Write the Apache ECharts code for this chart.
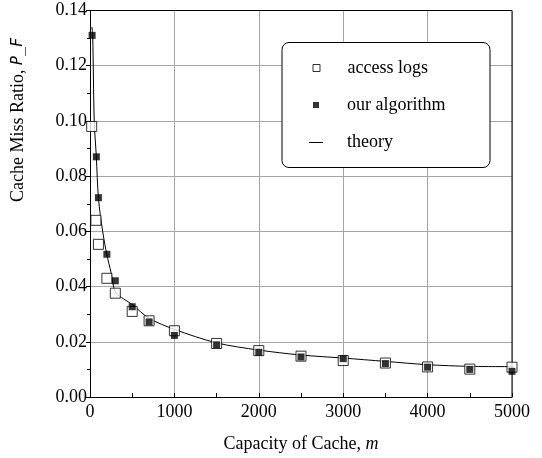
<!DOCTYPE html>
<html>
<head>
<meta charset="utf-8">
<script src="https://cdn.jsdelivr.net/npm/echarts@6/dist/echarts.min.js"></script>
<style>
html, body { margin: 0; padding: 0; background: #fff; }
#chart { width: 542px; height: 458px; }
</style>
</head>
<body>
<div id="chart"></div>
<script>
// 数据
var logX = [20, 70, 100, 200, 300, 500, 700, 1000, 1500, 2000, 2500, 3000, 3500, 4000, 4500, 5000];
var logY = [0.098, 0.064, 0.0553, 0.043, 0.0376, 0.031, 0.0276, 0.024, 0.0194, 0.0168, 0.0148, 0.0132, 0.0123, 0.0109, 0.0101, 0.0108];

var algoX = [25, 75, 100, 200, 300, 500, 700, 1000, 1500, 2000, 2500, 3000, 3500, 4000, 4500, 5000];
var algoY = [0.131, 0.087, 0.0722, 0.0517, 0.0421, 0.0327, 0.0272, 0.0223, 0.0189, 0.0162, 0.0145, 0.0139, 0.0121, 0.0108, 0.0100, 0.0093];

var theoryX = [22, 32, 50, 75, 100, 150, 200, 250, 300, 400, 500, 700, 1000, 1500, 2000, 2500, 3000, 3500, 4000, 4500, 5000];
var theoryY = [0.134, 0.131, 0.100, 0.087, 0.072, 0.060, 0.0515, 0.045, 0.038, 0.0355, 0.0335, 0.0285, 0.0245, 0.0196, 0.0170, 0.0152, 0.0141, 0.0129, 0.0117, 0.0111, 0.0110];

var pairs = function(xs, ys) {
    var out = []
    for (var i = 0; i < xs.length; i++) {
        out.push([xs[i], ys[i]])
    }
    return out
}

var font = '"Liberation Serif", "DejaVu Serif", serif'
var fs = 18
var myChart = echarts.init(document.getElementById('chart'));

// 图例：图标中心 x=311，文字起点 x=342
var legendBase = function(name, top, w, h, style) {
    return {
        data: [{ name: name, icon: 'rect', itemStyle: style }],
        left: 311 - w / 2,
        top: top,
        itemWidth: w,
        itemHeight: h,
        itemGap: 0,
        selectedMode: false,
        z: 10,
        textStyle: {
            fontFamily: font,
            fontSize: fs,
            color: '#000',
            padding: [0, 0, 0, 342 - (311 + w / 2) - 5],
        },
    }
}

var option = {
    animation: false,
    textStyle: { fontFamily: font },
    grid: { left: 90, right: 30, top: 10.5, bottom: 61 },
    graphic: [
        {
            type: 'rect',
            shape: { x: 282, y: 42.5, width: 208, height: 125, r: 7 },
            style: { fill: '#fff', stroke: '#000', lineWidth: 1 },
            z: 3,
        },
        {
            type: 'text',
            x: 27,
            y: 120,
            rotation: Math.PI / 2,
            z: 3,
            style: {
                text: '{t|Cache Miss Ratio, }{i|P_F}',
                align: 'center',
                verticalAlign: 'bottom',
                rich: {
                    t: { fontFamily: font, fontSize: fs, fill: '#000' },
                    i: { fontFamily: '"DejaVu Sans Mono", monospace', fontSize: 15, fill: '#000', fontStyle: 'italic' },
                },
            },
        },
    ],
    legend: [
        legendBase('access logs', 54, 7, 7, { color: '#fff', borderColor: '#000', borderWidth: 1 }),
        legendBase('our algorithm', 91, 6, 6, { color: '#000' }),
        legendBase('theory', 128.5, 14, 1, { color: '#000', borderWidth: 0 }),
    ],
    xAxis: {
        type: 'value',
        min: 0,
        max: 5000,
        interval: 1000,
        name: '{t|Capacity of Cache, }{i|m}',
        nameLocation: 'middle',
        nameGap: 38,
        nameTextStyle: {
            rich: {
                t: { fontFamily: font, fontSize: fs, color: '#000' },
                i: { fontFamily: font, fontSize: fs, color: '#000', fontStyle: 'italic' },
            },
        },
        axisLine: { show: true, lineStyle: { color: '#000', width: 1 } },
        axisTick: { show: true, inside: true, length: 4, lineStyle: { color: '#000' } },
        minorTick: { show: true, splitNumber: 2, length: 4, lineStyle: { color: '#000' } },
        axisLabel: {
            fontFamily: font, fontSize: fs, color: '#000', margin: 6,
            formatter: function(v) { return String(v) },
        },
        splitLine: { show: true, lineStyle: { color: '#a6a6a6', width: 1 } },
    },
    yAxis: {
        type: 'value',
        min: 0,
        max: 0.14,
        interval: 0.02,
        axisLine: { show: true, lineStyle: { color: '#000', width: 1 } },
        axisTick: { show: true, inside: false, length: 4, lineStyle: { color: '#000' } },
        minorTick: { show: true, splitNumber: 2, length: 3, lineStyle: { color: '#000' } },
        axisLabel: {
            fontFamily: font, fontSize: fs, color: '#000', margin: 3,
            formatter: function(v) { return v.toFixed(2) },
        },
        splitLine: { show: true, lineStyle: { color: '#a6a6a6', width: 1 } },
    },
    series: [
        {
            name: 'theory',
            type: 'line',
            data: pairs(theoryX, theoryY),
            symbol: 'none',
            smooth: 0.3,
            lineStyle: { color: '#000', width: 1 },
            itemStyle: { color: '#000' },
            z: 2,
        },
        {
            name: 'access logs',
            type: 'scatter',
            data: pairs(logX, logY),
            symbol: 'rect',
            symbolSize: 10,
            itemStyle: { color: '#fff', borderColor: '#000', borderWidth: 1 },
            z: 3,
        },
        {
            name: 'our algorithm',
            type: 'scatter',
            data: pairs(algoX, algoY),
            symbol: 'rect',
            symbolSize: 7,
            itemStyle: { color: '#000' },
            z: 4,
        },
        {
            // 上边框和右边框
            type: 'line',
            data: [[0, 0.14], [5000, 0.14], [5000, 0]],
            symbol: 'none',
            silent: true,
            lineStyle: { color: '#000', width: 1 },
            z: 1,
        },
    ],
}

myChart.setOption(option);
</script>
</body>
</html>
